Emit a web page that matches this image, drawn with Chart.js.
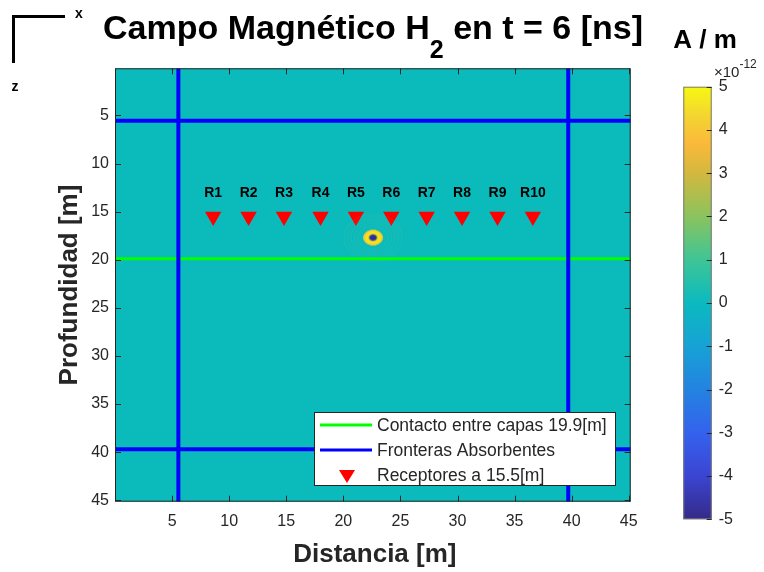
<!DOCTYPE html>
<html><head><meta charset="utf-8">
<script src="https://cdn.jsdelivr.net/npm/chart.js@4.4.1/dist/chart.umd.min.js"></script>
<style>
html,body{margin:0;padding:0;background:#fff;}
#wrap{position:relative;width:764px;height:572px;overflow:hidden;}
#main{position:absolute;left:0;top:0;}
#cbar{position:absolute;left:640px;top:0;}
</style></head><body>
<div id="wrap"><canvas id="main" width="764" height="572"></canvas><canvas id="cbar" width="124" height="572"></canvas></div>
<script>
// ---- data ----
const xTicks = [5, 10, 15, 20, 25, 30, 35, 40, 45];
const yTicks = [5, 10, 15, 20, 25, 30, 35, 40, 45];
const xRange = [0.0, 45.17];
const yRange = [0.1, 45.15];
const receiverNames = ['R1','R2','R3','R4','R5','R6','R7','R8','R9','R10'];
const receiverX = [8.6, 11.7, 14.8, 18.0, 21.1, 24.2, 27.3, 30.4, 33.5, 36.6];
const receiverDepth = 15.5;
const labelDepth = 13.1;
const contactDepth = 19.9;
const boundaryX = [5.55, 39.7];
const boundaryZ = [5.55, 39.7];
const sourceX = 22.6;
const sourceZ = 17.7;
const cbTicks = [-5, -4, -3, -2, -1, 0, 1, 2, 3, 4, 5];
const cbRange = [-5, 5];
const legendLabels = ['Contacto entre capas 19.9[m]', 'Fronteras Absorbentes', 'Receptores a 15.5[m]'];
const titleParts = ['Campo Magnético H', '2', ' en t = 6 [ns]'];
const xTitle = 'Distancia [m]';
const yTitle = 'Profundidad [m]';
const cbTitle = 'A / m';
const cbExp = ['×10', '-12'];

// ---- style ----
const FONT = '"Liberation Sans", Arial, Helvetica, sans-serif';
const TXT = '#262626';
const BG = '#0bbbbb';
Chart.defaults.font.family = FONT;
Chart.defaults.color = TXT;

const parula = [
  [0.00, '#352a87'], [0.10, '#3b45d2'], [0.20, '#3462ee'], [0.30, '#2383e0'],
  [0.40, '#17a2d6'], [0.50, '#0bbabf'], [0.60, '#3ec596'], [0.70, '#8bc35e'],
  [0.80, '#d3b83e'], [0.87, '#fbb93a'], [0.93, '#f3d431'], [1.00, '#f7f812']
];

// source blob image (point style)
const blob = document.createElement('canvas');
blob.width = 64; blob.height = 52;
(function(){
  const g = blob.getContext('2d');
  g.save(); g.translate(32, 26); g.scale(1, 0.8);
  for (let r = 29; r >= 12; r -= 3.5) {
    g.strokeStyle = 'rgba(190,200,110,0.10)'; g.lineWidth = 1.2;
    g.beginPath(); g.arc(0, 0, r, 0, 2*Math.PI); g.stroke();
  }
  const rg = g.createRadialGradient(0,0,0,0,0,10.5);
  rg.addColorStop(0, '#2a2896'); rg.addColorStop(0.30, '#33339e');
  rg.addColorStop(0.40, '#b8bc48'); rg.addColorStop(0.52, '#f8e81a');
  rg.addColorStop(0.78, '#f4d828'); rg.addColorStop(0.92, '#d8c050');
  rg.addColorStop(1, 'rgba(11,187,187,0)');
  g.fillStyle = rg; g.beginPath(); g.arc(0,0,10.5,0,2*Math.PI); g.fill();
  g.restore();
})();

const hline = (y) => [{x: xRange[0], y: y}, {x: xRange[1], y: y}];
const vline = (x) => [{x: x, y: yRange[0]}, {x: x, y: yRange[1]}];

const mainPlugin = {
  id: 'matlabLook',
  beforeDatasetsDraw(chart) {
    const a = chart.chartArea, c = chart.ctx;
    c.save(); c.fillStyle = BG; c.fillRect(a.left, a.top, a.right - a.left, a.bottom - a.top); c.restore();
  },
  afterDatasetsDraw(chart) {
    const c = chart.ctx, a = chart.chartArea, xs = chart.scales.x, ys = chart.scales.y;
    c.save();
    // receiver labels
    c.fillStyle = '#000'; c.font = 'bold 14px ' + FONT; c.textAlign = 'center'; c.textBaseline = 'middle';
    receiverNames.forEach((n, i) => c.fillText(n, xs.getPixelForValue(receiverX[i]), ys.getPixelForValue(labelDepth)));
    // axes box + inward ticks
    c.strokeStyle = TXT; c.lineWidth = 1;
    c.strokeRect(a.left + 0.5, a.top + 0.5, a.right - a.left - 1, a.bottom - a.top - 1);
    c.beginPath();
    xTicks.forEach(v => { const p = Math.round(xs.getPixelForValue(v)) + 0.5;
      c.moveTo(p, a.bottom); c.lineTo(p, a.bottom - 6); c.moveTo(p, a.top); c.lineTo(p, a.top + 6); });
    yTicks.forEach(v => { const p = Math.round(ys.getPixelForValue(v)) + 0.5;
      c.moveTo(a.left, p); c.lineTo(a.left + 6, p); c.moveTo(a.right, p); c.lineTo(a.right - 6, p); });
    c.stroke();
    // legend
    const L = 314, T = 412, R = 616, B = 486;
    c.fillStyle = '#fff'; c.fillRect(L, T, R - L, B - T);
    c.strokeStyle = TXT; c.strokeRect(L + 0.5, T + 0.5, R - L - 1, B - T - 1);
    const rows = [425, 450, 475];
    const ds = chart.data.datasets;
    c.lineWidth = 3;
    c.strokeStyle = ds[0].borderColor; c.beginPath(); c.moveTo(320, rows[0]); c.lineTo(372, rows[0]); c.stroke();
    c.strokeStyle = ds[1].borderColor; c.beginPath(); c.moveTo(320, rows[1]); c.lineTo(372, rows[1]); c.stroke();
    c.fillStyle = ds[5].backgroundColor; c.beginPath();
    c.moveTo(339, rows[2] - 5); c.lineTo(355, rows[2] - 5); c.lineTo(347, rows[2] + 8); c.closePath(); c.fill();
    c.fillStyle = TXT; c.font = '17.5px ' + FONT; c.textAlign = 'left'; c.textBaseline = 'middle';
    legendLabels.forEach((t, i) => c.fillText(t, 377, rows[i] + 1));
    c.restore();
  },
  afterDraw(chart) {
    const c = chart.ctx, a = chart.chartArea;
    c.save();
    c.fillStyle = '#000';
    // title with subscript
    const f1 = 'bold 34px ' + FONT, f2 = 'bold 25px ' + FONT;
    c.font = f1; const w1 = c.measureText(titleParts[0]).width, w3 = c.measureText(titleParts[2]).width;
    c.font = f2; const w2 = c.measureText(titleParts[1]).width;
    let x0 = 373 - (w1 + w2 + w3) / 2;
    c.textAlign = 'left'; c.textBaseline = 'alphabetic';
    c.font = f1; c.fillText(titleParts[0], x0, 39);
    c.font = f2; c.fillText(titleParts[1], x0 + w1, 58);
    c.font = f1; c.fillText(titleParts[2], x0 + w1 + w2, 39);
    // axis titles
    c.fillStyle = TXT; c.font = 'bold 26px ' + FONT; c.textAlign = 'center';
    c.fillText(xTitle, (a.left + a.right) / 2 + 2, 562);
    c.save(); c.translate(77, (a.top + a.bottom) / 2); c.rotate(-Math.PI / 2);
    c.fillText(yTitle, 0, 0); c.restore();
    // orientation glyph
    c.fillStyle = '#000';
    c.fillRect(12, 15, 53, 3); c.fillRect(12, 15, 3, 48);
    c.font = 'bold 14px ' + FONT; c.textAlign = 'center'; c.textBaseline = 'middle';
    c.fillText('x', 79, 14); c.fillText('z', 15, 87);
    c.restore();
  }
};

new Chart(document.getElementById('main'), {
  type: 'scatter',
  data: { datasets: [
    { type: 'line', data: hline(contactDepth), borderColor: '#00ff00', borderWidth: 3, pointRadius: 0, order: 5 },
    { type: 'line', data: hline(boundaryZ[0]), borderColor: '#0000ff', borderWidth: 4, pointRadius: 0, order: 3 },
    { type: 'line', data: hline(boundaryZ[1]), borderColor: '#0000ff', borderWidth: 4, pointRadius: 0, order: 3 },
    { type: 'line', data: vline(boundaryX[0]), borderColor: '#0000ff', borderWidth: 4, pointRadius: 0, order: 4 },
    { type: 'line', data: vline(boundaryX[1]), borderColor: '#0000ff', borderWidth: 4, pointRadius: 0, order: 4 },
    { data: receiverX.map(x => ({x: x, y: receiverDepth})), backgroundColor: '#ff0000', borderWidth: 0,
      pointStyle: 'triangle', rotation: 180, pointRadius: 9.5, order: 1 },
    { data: [{x: sourceX, y: sourceZ}], pointStyle: blob, pointRadius: 10, order: 0 }
  ]},
  options: {
    responsive: false, animation: false, devicePixelRatio: 1,
    layout: { padding: { left: 0, top: 68.3, right: 133.3, bottom: 0 } },
    plugins: { legend: { display: false }, tooltip: { enabled: false } },
    scales: {
      x: { type: 'linear', min: xRange[0], max: xRange[1], position: 'bottom',
        grid: { display: false, drawTicks: false }, border: { display: false },
        ticks: { font: { size: 16 }, color: TXT, padding: 10, maxRotation: 0, autoSkip: false },
        afterBuildTicks: s => { s.ticks = xTicks.map(v => ({ value: v })); },
        afterFit: s => { s.height = 70.3; } },
      y: { type: 'linear', reverse: true, min: yRange[0], max: yRange[1],
        grid: { display: false, drawTicks: false }, border: { display: false },
        ticks: { font: { size: 16 }, color: TXT, padding: 6, autoSkip: false },
        afterBuildTicks: s => { s.ticks = yTicks.map(v => ({ value: v })); },
        afterFit: s => { s.width = 115; } }
    }
  },
  plugins: [mainPlugin]
});

const cbPlugin = {
  id: 'cbDeco',
  afterDatasetsDraw(chart) {
    const c = chart.ctx, a = chart.chartArea, ys = chart.scales.y;
    c.save();
    c.strokeStyle = '#7a7a7a'; c.lineWidth = 1;
    c.strokeRect(a.left + 0.5, a.top + 0.5, a.right - a.left - 1, a.bottom - a.top - 1);
    c.strokeStyle = TXT; c.beginPath();
    cbTicks.forEach(v => { const p = Math.round(ys.getPixelForValue(v)) + 0.5;
      c.moveTo(a.right - 5, p); c.lineTo(a.right, p); });
    c.stroke();
    c.fillStyle = '#000'; c.font = 'bold 26px ' + FONT; c.textAlign = 'center'; c.textBaseline = 'alphabetic';
    c.fillText(cbTitle, 65, 48);
    c.fillStyle = TXT; c.textAlign = 'left';
    c.font = '15px ' + FONT; c.fillText(cbExp[0], 74, 77);
    const w = c.measureText(cbExp[0]).width;
    c.font = '12px ' + FONT; c.fillText(cbExp[1], 74 + w, 68);
    c.restore();
  }
};

new Chart(document.getElementById('cbar'), {
  type: 'bar',
  data: { labels: ['cb'], datasets: [{
    data: [cbRange],
    borderWidth: 0, barPercentage: 1, categoryPercentage: 1,
    backgroundColor: (ctx) => {
      const a = ctx.chart.chartArea; if (!a) return '#0bbabf';
      const g = ctx.chart.ctx.createLinearGradient(0, a.bottom, 0, a.top);
      parula.forEach(s => g.addColorStop(s[0], s[1]));
      return g;
    }
  }]},
  options: {
    responsive: false, animation: false, devicePixelRatio: 1,
    layout: { padding: { left: 43.3, top: 86.7, right: 0, bottom: 52.7 } },
    plugins: { legend: { display: false }, tooltip: { enabled: false } },
    scales: {
      x: { display: false },
      y: { position: 'right', min: cbRange[0], max: cbRange[1],
        grid: { display: false, drawTicks: false }, border: { display: false },
        ticks: { font: { size: 16 }, color: TXT, padding: 7 },
        afterBuildTicks: s => { s.ticks = cbTicks.map(v => ({ value: v })); },
        afterFit: s => { s.width = 52.3; } }
    }
  },
  plugins: [cbPlugin]
});
</script>
</body></html>
